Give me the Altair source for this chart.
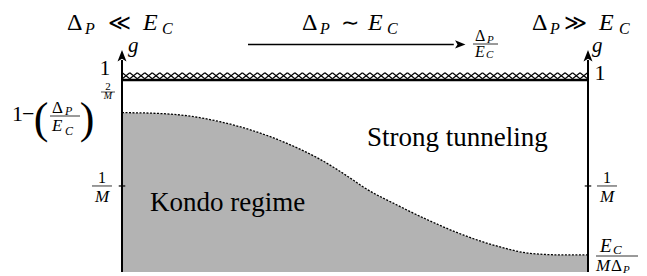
import altair as alt
import pandas as pd
import numpy as np

FONT = "Liberation Serif"

# boundary curve (x = Δ_P/E_C, normalised; g normalised so that g=1 at top line)
curve_x = [0.0, 0.0665, 0.139, 0.210, 0.281, 0.354, 0.425, 0.496, 0.517, 0.590,
           0.661, 0.732, 0.805, 0.876, 0.946, 1.0]
curve_g = [0.830, 0.827, 0.814, 0.783, 0.736, 0.670, 0.587, 0.479, 0.444, 0.349,
           0.266, 0.193, 0.135, 0.097, 0.089, 0.089]

g_top = 1.0
g_inv_m = 0.448
n_crosses = 62

xs = alt.Scale(domain=[0, 1], nice=False, zero=False)
ys = alt.Scale(domain=[0, 1], nice=False, zero=False)

one = pd.DataFrame({"k": [0]})


def X(v):
    return alt.X(datum=v, scale=xs, axis=None)


def Y(v):
    return alt.Y(datum=v, scale=ys, axis=None)


def label(s, x, y, size, italic=False, align="left"):
    return alt.Chart(one).mark_text(
        text=s, font=FONT, fontSize=size, fontStyle="italic" if italic else "normal",
        align=align, baseline="alphabetic", color="black"
    ).encode(x=X(x), y=Y(y))


def hline(x1, x2, y, w=1.0):
    return alt.Chart(one).mark_rule(color="black", strokeWidth=w).encode(
        x=X(x1), x2=alt.X2(datum=x2), y=Y(y))


def vline(x, y1, y2, w=2.0):
    return alt.Chart(one).mark_rule(color="black", strokeWidth=w).encode(
        x=X(x), y=Y(y1), y2=alt.Y2(datum=y2))


UP = "M0,-1 L0.75,0.9 L0,0.45 L-0.75,0.9 Z"
RIGHT = "M1,0 L-0.9,0.75 L-0.45,0 L-0.9,-0.75 Z"


def head(x, y, shape, size):
    return alt.Chart(one).mark_point(shape=shape, filled=True, size=size, color="black",
                                     opacity=1, strokeWidth=0).encode(x=X(x), y=Y(y))


df = pd.DataFrame({"x": curve_x, "g": curve_g})
base = alt.Chart(df)
area = base.mark_area(color="#b3b3b3", opacity=1, interpolate="monotone").encode(
    x=alt.X("x:Q", scale=xs, axis=None), y=alt.Y("g:Q", scale=ys, axis=None))
dotted = base.mark_line(color="black", strokeWidth=1.3, strokeDash=[2, 1.5],
                        interpolate="monotone").encode(
    x=alt.X("x:Q", scale=xs, axis=None), y=alt.Y("g:Q", scale=ys, axis=None))

cross_df = pd.DataFrame({"x": np.linspace(0.0086, 0.991, n_crosses), "g": 1.022})
crosses = alt.Chart(cross_df).mark_point(
    shape="M-1,-0.8L1,0.8M-1,0.8L1,-0.8", filled=False, size=56, color="black",
    strokeWidth=1.2, opacity=1).encode(
    x=alt.X("x:Q", scale=xs, axis=None), y=alt.Y("g:Q", scale=ys, axis=None))

layers = [area, dotted,
          hline(0, 1, g_top, 2.5), crosses,
          vline(0, 0, 1.104), vline(1, 0, 1.104),
          head(0, 1.125, UP, 144), head(1, 1.125, UP, 144),
          hline(-0.007, 0.007, g_inv_m, 1.2), hline(0.993, 1.007, g_inv_m, 1.2),
          # horizontal arrow
          hline(0.2704, 0.712, 1.185, 1.6), head(0.7253, 1.185, RIGHT, 121),
          ]

BIG, SUB, REL = 24, 16, 22
TOP_BASE, TOP_SUB = 1.2604, 1.2396
# top labels: Δ, P, relation, E, C
for (x0, xp, xr, xe, xc, rel) in [(-0.1180, -0.0794, -0.0064, 0.0451, 0.0858, "≪"),
                                  (0.3863, 0.4249, 0.4893, 0.5279, 0.5687, "∼"),
                                  (0.8798, 0.9185, 0.9742, 1.0236, 1.0665, "≫")]:
    layers += [label("Δ", x0, TOP_BASE, BIG), label("P", xp, TOP_SUB, SUB, True),
               label(rel, xr, TOP_BASE, REL, align="center"),
               label("E", xe, TOP_BASE, BIG, True), label("C", xc, TOP_SUB, SUB, True)]

# fraction at end of arrow
layers += [label("Δ", 0.7575, 1.2057, 16), label("P", 0.7833, 1.1927, 11, True),
           hline(0.7532, 0.8069, 1.1875, 0.8),
           label("E", 0.7575, 1.1198, 16, True), label("C", 0.7812, 1.112, 11, True)]

# axis letters g and 1
layers += [label("g", 0.0129, 1.146, 21, True), label("g", 1.0086, 1.146, 21, True),
           label("1", -0.0365, 1.026, 21, align="center"),
           label("1", 1.0258, 1.0, 22, align="center")]

# 1/M both sides
for cx, l1, l2 in [(-0.0429, -0.0644, -0.0215), (1.0408, 1.0193, 1.0622)]:
    layers += [label("1", cx, 0.4635, 16, align="center"),
               hline(l1, l2, g_inv_m, 0.8),
               label("M", cx, 0.3646, 17, True, align="center")]

# E_C / (M Δ_P) on the right
layers += [label("E", 1.0258, 0.1042, 19, True), label("C", 1.0536, 0.0938, 13, True),
           hline(1.0172, 1.1073, 0.0833, 0.8),
           label("M", 1.0172, 0.0052, 17, True), label("Δ", 1.0494, 0.0052, 17),
           label("P", 1.0751, -0.0078, 11, True)]

# 1 − (Δ_P / E_C)^(2/M) on the left
layers += [label("1", -0.236, 0.7865, 22), label("−", -0.2146, 0.7865, 22),
           label("(", -0.1738, 0.724, 44, align="center"),
           label("Δ", -0.1502, 0.828, 17), label("P", -0.1223, 0.8182, 12, True),
           hline(-0.1545, -0.0901, 0.8125, 0.8),
           label("E", -0.1502, 0.7344, 17, True), label("C", -0.1223, 0.7135, 12, True),
           label(")", -0.0751, 0.724, 44, align="center"),
           label("2", -0.03, 0.9505, 11, align="center"),
           hline(-0.0451, -0.015, 0.9375, 0.7),
           label("M", -0.03, 0.901, 10, True, align="center")]

# region names
layers += [label("Kondo regime", 0.0601, 0.3177, 27),
           label("Strong tunneling", 0.5258, 0.65625, 27)]

chart = alt.layer(*layers).properties(
    width=466, height=192,
    autosize=alt.AutoSizeParams(type="none"),
    padding={"left": 114, "right": 51, "top": 72, "bottom": 4},
).configure_view(stroke=None)

chart.save("out.html", embed_options={"renderer": "svg", "actions": False})
